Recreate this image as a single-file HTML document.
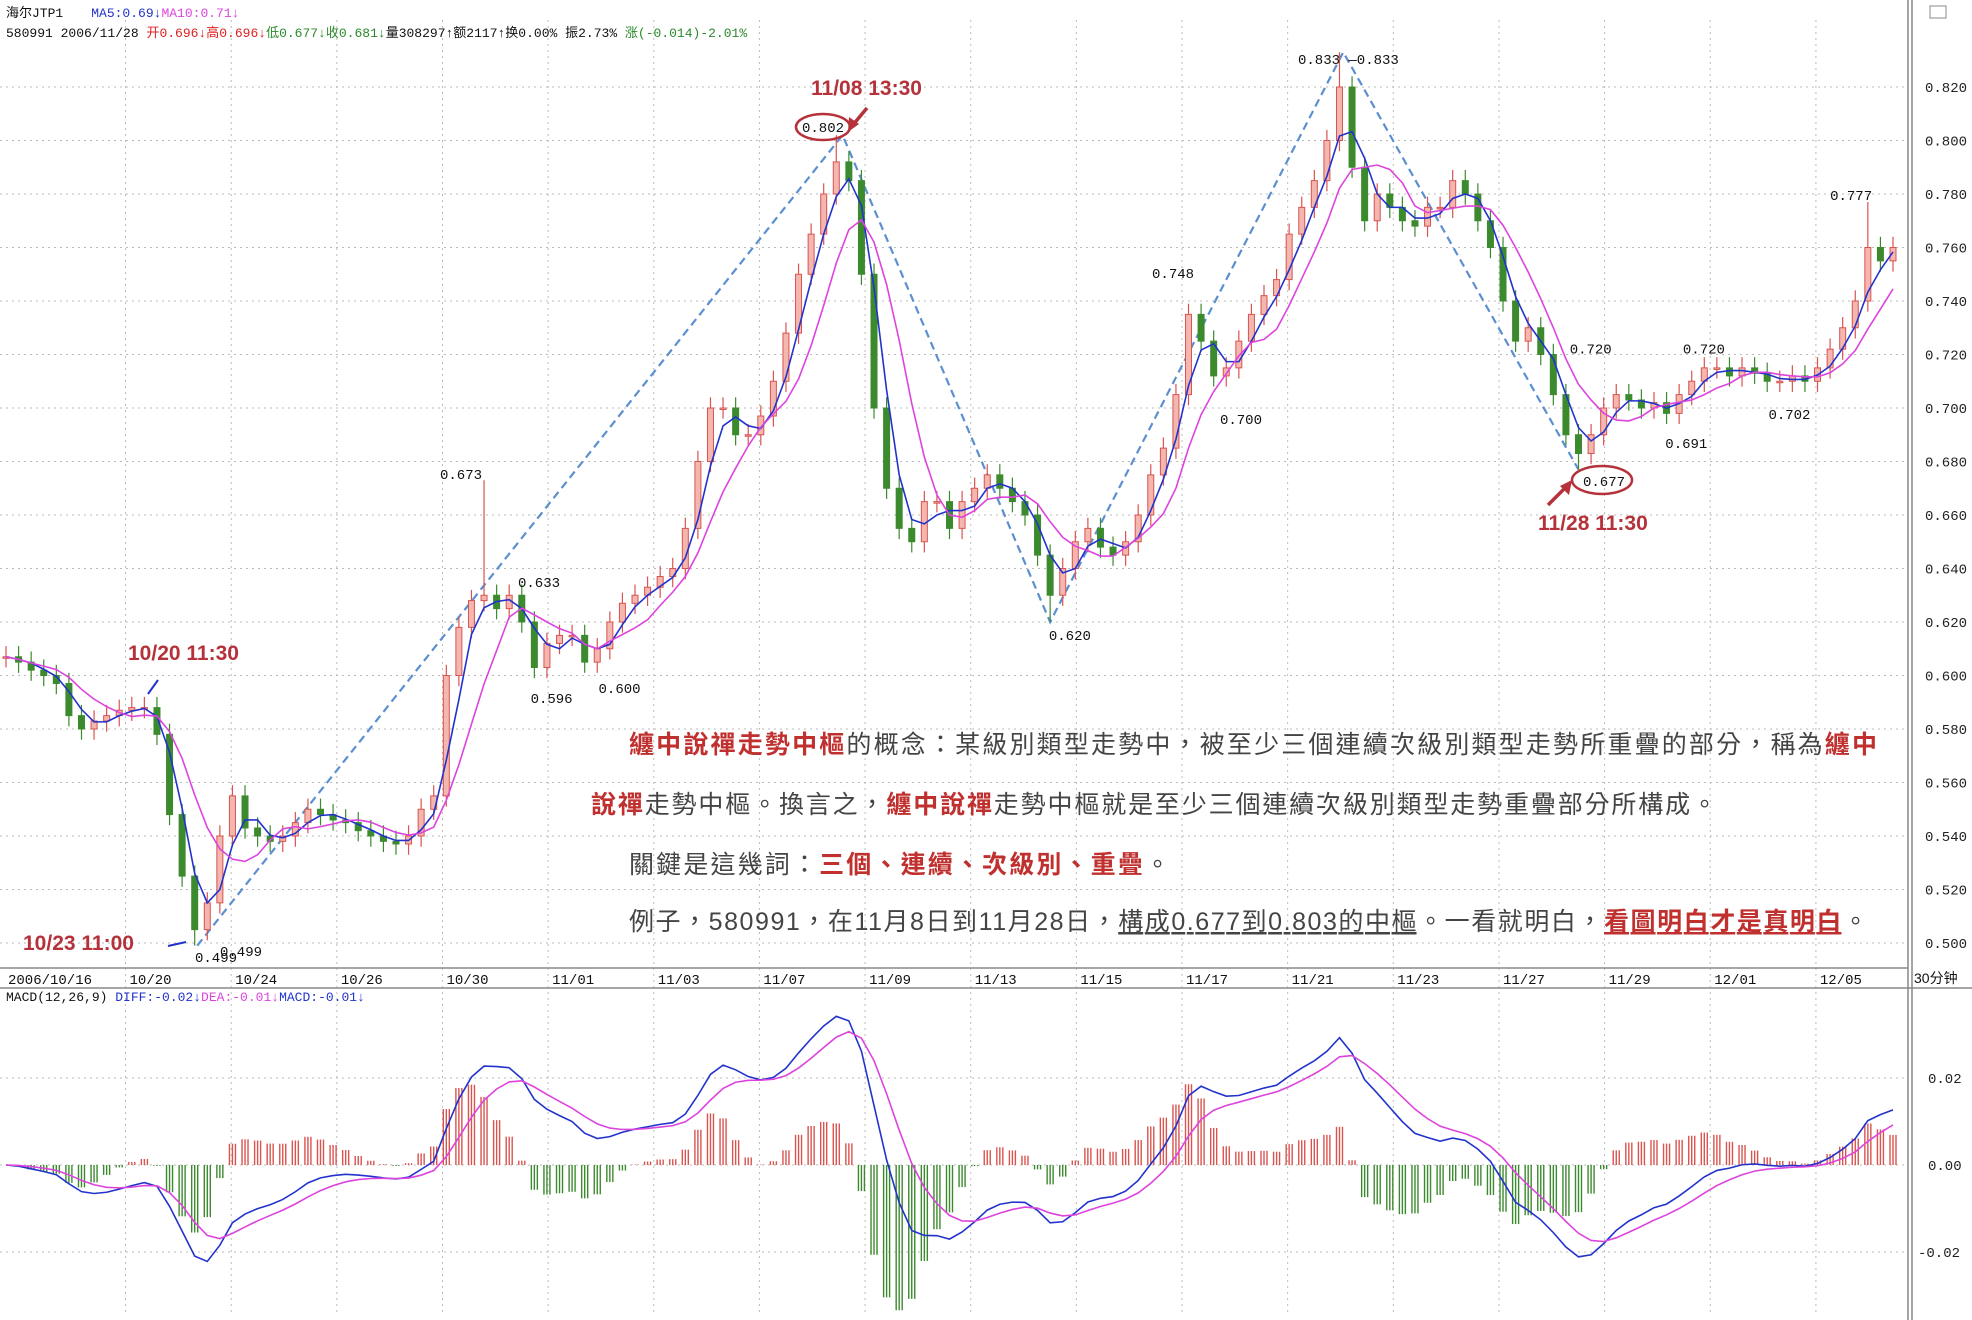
<!DOCTYPE html>
<html><head><meta charset="utf-8">
<style>
html,body{margin:0;padding:0;background:#fff;}
svg{display:block;font-family:"Liberation Sans","Noto Sans CJK TC",sans-serif;}
.mono{font-family:"Liberation Mono","Noto Sans CJK SC",monospace;}
</style></head>
<body>
<svg id="chart" width="1972" height="1320" viewBox="0 0 1972 1320" xmlns="http://www.w3.org/2000/svg">
<g id="grid"></g>
<g id="zig"></g>
<g id="candles"></g>
<g id="ma"></g>
<g id="macd"></g>
<g id="axes"></g>
<g id="ann"></g>
</svg>
<script>
// ===== data =====
const closes=[.607,.605,.602,.600,.597,.585,.580,.583,.585,.587,.588,.588,.578,.548,.525,.505,.515,.540,.555,.543,.540,.538,.540,.545,.550,.548,.546,.545,.542,.540,.538,.537,.540,.550,.555,.600,.618,.628,.630,.625,.630,.620,.603,.612,.615,.615,.605,.610,.620,.627,.630,.633,.637,.640,.655,.680,.700,.700,.690,.690,.697,.710,.728,.750,.765,.780,.792,.785,.750,.700,.670,.655,.650,.665,.665,.655,.665,.670,.675,.670,.665,.660,.645,.630,.640,.650,.655,.648,.645,.650,.660,.675,.685,.705,.735,.725,.712,.715,.725,.735,.742,.748,.765,.775,.785,.800,.820,.790,.770,.780,.775,.770,.768,.775,.775,.785,.780,.770,.760,.740,.725,.730,.720,.705,.690,.683,.690,.700,.705,.703,.700,.702,.698,.705,.710,.715,.715,.712,.715,.713,.710,.710,.712,.710,.715,.722,.730,.740,.760,.755,.760];
const spikeIdx=[15,38,66,83,106,125,148];
const spikeVal=[0.499,0.673,0.802,0.620,0.833,0.677,0.777];
const priceTicks=[0.500,0.520,0.540,0.560,0.580,0.600,0.620,0.640,0.660,0.680,0.700,0.720,0.740,0.760,0.780,0.800,0.820];
const macdTicks=[-0.02,0.00,0.02];
const dateLabels=["2006/10/16","10/20","10/24","10/26","10/30","11/01","11/03","11/07","11/09","11/13","11/15","11/17","11/21","11/23","11/27","11/29","12/01","12/05"];
const zigIdx=[15.2,66.5,83,106.3,125];
const zigPrice=[0.499,0.802,0.620,0.833,0.677];
const pointLabels=["0.673","0.633","0.596","0.600","0.620","0.748","0.700","0.720","0.720","0.691","0.702","0.777"];
const pointLabelIdx=[34.5,40.7,41.7,47.1,82.9,91.1,96.5,124.3,133.3,131.9,140.1,145.0];
const pointLabelPrice=[0.6753,0.6349,0.5916,0.5954,0.6151,0.7505,0.6959,0.7223,0.7223,0.6870,0.6978,0.7796];

// ===== scales =====
const X0=6,STEP=12.58;
const xi=i=>X0+i*STEP;
const yP=p=>87+(0.820-p)/0.32*856;
const yM=v=>1165-v/0.02*87;
const NS="http://www.w3.org/2000/svg";
function mk(parent,tag,attrs,text){const e=document.createElementNS(NS,tag);for(const k in attrs)e.setAttribute(k,attrs[k]);if(text!==undefined)e.textContent=text;document.getElementById(parent).appendChild(e);return e;}

// grid
priceTicks.forEach(t=>{const l=mk('grid','line',{x1:0,x2:1908,y1:yP(t),y2:yP(t),stroke:'#bbb','stroke-dasharray':'2,4'});

});
macdTicks.forEach(t=>{const l=mk('grid','line',{x1:0,x2:1908,y1:yM(t),y2:yM(t),stroke:'#bbb','stroke-dasharray':'2,4'});

});
dateLabels.forEach((d,i)=>{const x=i==0?6:(103+(i-1)*84)*1.2577-4;
if(i>0){const l=mk('grid','line',{x1:x,x2:x,y1:20,y2:1316,stroke:'#bbb','stroke-dasharray':'2,4'});

}
const t=mk('axes','text',{x:i==0?8:x+4,y:984,'font-size':14,fill:'#111',class:'mono'},d);

});

// zigzag
let pts=zigIdx.map((v,i)=>xi(v)+','+yP(zigPrice[i])).join(' ');
const zz=mk('zig','polyline',{points:pts,fill:'none',stroke:'#5b8fd0','stroke-width':2.2,'stroke-dasharray':'8,5'});



// candles
closes.forEach((c,i)=>{const o=i?closes[i-1]:c;const up=c>=o;const col=up?'#d9534f':'#3c8a2e';
const x=xi(i);let hi=Math.max(o,c)+0.004,lo=Math.min(o,c)-0.004;
const si=spikeIdx.indexOf(i);if(si>=0){const v=spikeVal[si];if(v>hi)hi=v;if(v<lo)lo=v;}
const w=mk('candles','line',{x1:x,x2:x,y1:yP(hi),y2:yP(lo),stroke:col,'stroke-width':1.2});


const top=yP(Math.max(o,c)),h=Math.max(1.5,yP(Math.min(o,c))-top);
const b=mk('candles','rect',{x:x-3,y:top,width:6,height:h,fill:up?'#f3b7b0':'#3c8a2e',stroke:col,'stroke-width':1});

});

// MAs
function ma(n){return closes.map((_,i)=>{const s=closes.slice(Math.max(0,i-n+1),i+1);return s.reduce((a,b)=>a+b,0)/s.length;});}
const ma5=ma(3),ma10=ma(6);
const m5=mk('ma','polyline',{points:ma5.map((v,i)=>xi(i)+','+yP(v)).join(' '),fill:'none',stroke:'#2233cc','stroke-width':1.6});


const m10=mk('ma','polyline',{points:ma10.map((v,i)=>xi(i)+','+yP(v)).join(' '),fill:'none',stroke:'#dd44dd','stroke-width':1.6});



// MACD
function ema(arr,n){const k=2/(n+1);let e=arr[0];return arr.map(v=>e=e+(v-e)*k);}
const e1=ema(closes,6),e2=ema(closes,13);
const diff=e1.map((v,i)=>v-e2[i]);const dea=ema(diff,5);
diff.forEach((d,i)=>{const h=(d-dea[i])*2;const x=xi(i);
for(const dx of [-3,0,3]){const b=mk('macd','line',{x1:x+dx,x2:x+dx,y1:yM(0),y2:yM(h),stroke:h>=0?'#d9534f':'#3c8a2e','stroke-width':1.4});

}});
const dl=mk('macd','polyline',{points:diff.map((v,i)=>xi(i)+','+yM(v)).join(' '),fill:'none',stroke:'#2233cc','stroke-width':1.6});


const el=mk('macd','polyline',{points:dea.map((v,i)=>xi(i)+','+yM(v)).join(' '),fill:'none',stroke:'#dd44dd','stroke-width':1.6});



// axes
[[0,968,1908,968],[0,988,1972,988],[1908,0,1908,1320],[1912,0,1912,1320]].forEach(a=>{const l=mk('axes','line',{x1:a[0],y1:a[1],x2:a[2],y2:a[3],stroke:'#888','stroke-width':1.5});

});
priceTicks.forEach(t=>{const l=mk('axes','text',{x:1925,y:yP(t)+5,'font-size':14,fill:'#222',class:'mono'},t.toFixed(3));

});
macdTicks.forEach(t=>{const l=mk('axes','text',{x:t<0?1918:1928,y:yM(t)+5,'font-size':14,fill:'#222',class:'mono'},t.toFixed(2));

});

// point labels
pointLabels.forEach((s,i)=>{const t=mk('ann','text',{x:xi(pointLabelIdx[i]),y:yP(pointLabelPrice[i])+5,'font-size':14,fill:'#111',class:'mono'},s);

});
</script>
<svg style="position:absolute;left:0;top:0" width="1972" height="1320">
<text x="6" y="17" font-size="13" font-family="Liberation Mono,Noto Sans CJK SC,monospace"><tspan fill="#111">海尔JTP1</tspan><tspan fill="#2233cc" dx="28">MA5:0.69↓</tspan><tspan fill="#dd44dd">MA10:0.71↓</tspan></text>
<text x="6" y="37" font-size="13" font-family="Liberation Mono,Noto Sans CJK SC,monospace"><tspan fill="#111">580991 2006/11/28 </tspan><tspan fill="#e02020">开0.696↓高0.696↓</tspan><tspan fill="#2a8a2a">低0.677↓收0.681↓</tspan><tspan fill="#111">量308297↑额2117↑换0.00% 振2.73% </tspan><tspan fill="#2a8a2a">涨(-0.014)-2.01%</tspan></text>
<text x="6" y="1001" font-size="13" font-family="Liberation Mono,monospace"><tspan fill="#111">MACD(12,26,9) </tspan><tspan fill="#2233cc">DIFF:-0.02↓</tspan><tspan fill="#dd44dd">DEA:-0.01↓</tspan><tspan fill="#2233cc">MACD:-0.01↓</tspan></text>
<text x="1914" y="983" font-size="14" fill="#111" font-family="Liberation Sans,Noto Sans CJK SC,sans-serif">30分钟</text>
<rect x="1930" y="6" width="16" height="12" fill="none" stroke="#888"/>
<g font-family="Liberation Sans,Noto Sans CJK SC,sans-serif" font-weight="bold" fill="#b5323a" font-size="21">
<text x="811" y="95">11/08 13:30</text>
<text x="128" y="660">10/20 11:30</text>
<text x="23" y="950">10/23 11:00</text>
<text x="1538" y="530">11/28 11:30</text>
</g>
<ellipse cx="823" cy="127" rx="27" ry="13" fill="none" stroke="#b5323a" stroke-width="2.5"/>
<text x="802" y="132" font-size="14" font-family="Liberation Mono,monospace" fill="#111">0.802</text>
<line x1="867" y1="108" x2="852" y2="126" stroke="#b5323a" stroke-width="3.5"/>
<polygon points="848,132 849,117 859,124" fill="#b5323a"/>
<ellipse cx="1602" cy="480" rx="30" ry="14" fill="none" stroke="#b5323a" stroke-width="2.5"/>
<text x="1583" y="486" font-size="14" font-family="Liberation Mono,monospace" fill="#111">0.677</text>
<line x1="1548" y1="505" x2="1566" y2="487" stroke="#b5323a" stroke-width="3.5"/>
<polygon points="1572,480 1569,495 1560,486" fill="#b5323a"/>
<text x="1298" y="64" font-size="14" font-family="Liberation Mono,monospace" fill="#111">0.833 —0.833</text>
<text x="195" y="962" font-size="14" font-family="Liberation Mono,monospace" fill="#111">0.499</text>
<text x="220" y="956" font-size="14" font-family="Liberation Mono,monospace" fill="#111">0.499</text>
<line x1="148" y1="694" x2="158" y2="680" stroke="#2233cc" stroke-width="2"/>
<line x1="168" y1="946" x2="186" y2="942" stroke="#2233cc" stroke-width="2"/>
<g font-family="Liberation Sans,Noto Sans CJK TC,sans-serif" font-size="25" fill="#444">
<text x="629" y="753" textLength="1248" lengthAdjust="spacing"><tspan fill="#c0302f" font-weight="bold">纏中說禪走勢中樞</tspan>的概念：某級別類型走勢中，被至少三個連續次級別類型走勢所重疊的部分，稱為<tspan fill="#c0302f" font-weight="bold">纏中</tspan></text>
<text x="591" y="813" textLength="1126" lengthAdjust="spacing"><tspan fill="#c0302f" font-weight="bold">說禪</tspan>走勢中樞。換言之，<tspan fill="#c0302f" font-weight="bold">纏中說禪</tspan>走勢中樞就是至少三個連續次級別類型走勢重疊部分所構成。</text>
<text x="629" y="873" textLength="541" lengthAdjust="spacing">關鍵是這幾詞：<tspan fill="#c0302f" font-weight="bold">三個、連續、次級別、重疊</tspan>。</text>
<text x="629" y="930" textLength="1239" lengthAdjust="spacing">例子，580991，在11月8日到11月28日，<tspan text-decoration="underline">構成0.677到0.803的中樞</tspan>。一看就明白，<tspan fill="#c0302f" font-weight="bold" text-decoration="underline">看圖明白才是真明白</tspan>。</text>
</g>
</svg>
</body></html>
